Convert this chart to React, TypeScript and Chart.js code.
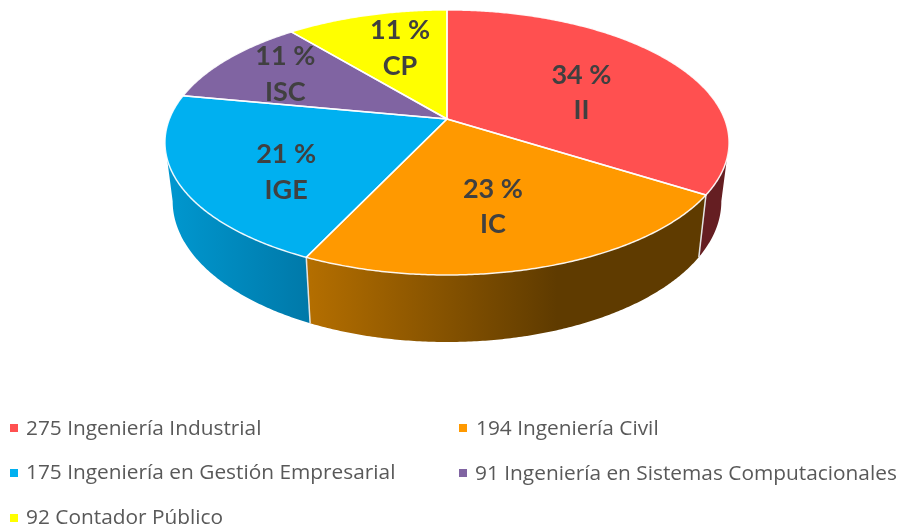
import React, { useEffect, useRef } from "react";
import { Chart, registerables } from "chart.js";

Chart.register(...registerables);

// Data
const shortNames = ["II", "IC", "IGE", "ISC", "CP"];
const percentages = [34, 23, 21, 11, 11];
const legendLabels = [
  "275 Ingeniería Industrial",
  "194 Ingeniería Civil",
  "175 Ingeniería en Gestión Empresarial",
  "91 Ingeniería en Sistemas Computacionales",
  "92 Contador Público",
];

// Styles
const topColors = ["#ff5050", "#ff9900", "#00b0f0", "#8064a2", "#ffff00"];
const labelAngleShift = [5, 2.4, -8, 1, 3];
const labelRadius = [0.55, 0.62, 0.66, 0.73, 0.65];
const legendCells = [
  [10, 424, 26, 429],
  [459, 424, 476, 429],
  [10, 469, 26, 473],
  [459, 469, 475, 474],
  [10, 514, 26, 518],
];

// Projection of a flat disc, seen from above, in perspective
const CX = 447;
const K = 0.177;
const TOP = { y0: 119, rx: 277.6, ry: 128.4 };
const BOTTOM = { y0: 176.4, rx: 270, ry: 136.3 };
type Plane = typeof TOP;

const project = (p: Plane, theta: number, r = 1) => {
  const u = r * Math.sin(theta);
  const v = -r * Math.cos(theta);
  const w = 1 - K * v;
  return { x: CX + (p.rx * u) / w, y: p.y0 + (p.ry * v) / w };
};

const sweep = (a: number, b: number) => {
  const n = Math.max(2, Math.ceil(Math.abs(b - a) / (Math.PI / 360)));
  const out: number[] = [];
  for (let i = 0; i <= n; i++) out.push(a + ((b - a) * i) / n);
  return out;
};

const thetas = (arc: any) => [arc.startAngle + Math.PI / 2, arc.endAngle + Math.PI / 2];

const wallFill = (ctx: CanvasRenderingContext2D, i: number) => {
  if (i === 1) {
    const g = ctx.createLinearGradient(305, 0, 705, 0);
    g.addColorStop(0, "#b56f00");
    g.addColorStop(0.63, "#5f3b00");
    g.addColorStop(1, "#5f3b00");
    return g;
  }
  if (i === 2) {
    const g = ctx.createLinearGradient(165, 0, 308, 0);
    g.addColorStop(0, "#0098d0");
    g.addColorStop(1, "#0079a9");
    return g;
  }
  return ["#651e22", "", "", "#4c3c61", "#999900"][i];
};

const pie3d = {
  id: "pie3d",
  beforeDatasetDraw(chart: Chart) {
    const ctx = chart.ctx;
    const arcs = chart.getDatasetMeta(0).data as any[];
    ctx.save();
    ctx.lineJoin = "round";

    // side wall: only the part of the rim that faces the viewer
    const rimFrom = Math.acos(-K);
    const rimTo = 2 * Math.PI - rimFrom;
    arcs.forEach((arc, i) => {
      const [s, e] = thetas(arc);
      const a = Math.max(s, rimFrom);
      const b = Math.min(e, rimTo);
      if (b <= a) return;
      const ts = sweep(a, b);
      ctx.beginPath();
      ts.forEach((t, n) => {
        const q = project(TOP, t);
        n ? ctx.lineTo(q.x, q.y) : ctx.moveTo(q.x, q.y);
      });
      [...ts].reverse().forEach((t) => {
        const q = project(BOTTOM, t);
        ctx.lineTo(q.x, q.y);
      });
      ctx.closePath();
      ctx.fillStyle = wallFill(ctx, i) as any;
      ctx.fill();
    });

    // seams on the wall
    arcs.forEach((arc) => {
      const [a] = thetas(arc);
      if (-Math.cos(a) <= K) return;
      const p = project(TOP, a);
      const q = project(BOTTOM, a);
      ctx.beginPath();
      ctx.moveTo(p.x, p.y);
      ctx.lineTo(q.x, q.y);
      ctx.strokeStyle = "#e4e4e4";
      ctx.lineWidth = 1.5;
      ctx.stroke();
    });

    // top face
    arcs.forEach((arc, i) => {
      const [a, b] = thetas(arc);
      const c = project(TOP, 0, 0);
      ctx.beginPath();
      ctx.moveTo(c.x, c.y);
      sweep(a, b).forEach((t) => {
        const q = project(TOP, t);
        ctx.lineTo(q.x, q.y);
      });
      ctx.closePath();
      ctx.fillStyle = topColors[i];
      ctx.fill();
    });
    arcs.forEach((arc) => {
      const [a, b] = thetas(arc);
      const c = project(TOP, 0, 0);
      ctx.beginPath();
      ctx.moveTo(c.x, c.y);
      sweep(a, b).forEach((t) => {
        const q = project(TOP, t);
        ctx.lineTo(q.x, q.y);
      });
      ctx.closePath();
      ctx.strokeStyle = "rgba(255,255,255,0.9)";
      ctx.lineWidth = 1.5;
      ctx.stroke();
    });

    // labels
    ctx.fillStyle = "#404040";
    ctx.font = "bold 27px Lato";
    ctx.textAlign = "center";
    ctx.textBaseline = "middle";
    arcs.forEach((arc, i) => {
      const [a, b] = thetas(arc);
      const mid = (a + b) / 2 + (labelAngleShift[i] * Math.PI) / 180;
      const q = project(TOP, mid, labelRadius[i]);
      ctx.fillText(`${percentages[i]} %`, q.x, q.y - 16.5);
      ctx.fillText(shortNames[i], q.x, q.y + 19);
    });

    // legend
    ctx.font = "20.85px 'Open Sans'";
    ctx.textAlign = "left";
    legendLabels.forEach((label, i) => {
      const [mx, my, tx, ty] = legendCells[i];
      ctx.fillStyle = topColors[i];
      ctx.fillRect(mx, my, 8, 8);
      ctx.fillStyle = "#595959";
      ctx.fillText(label, tx, ty);
    });

    ctx.restore();
    return false;
  },
};

export default function App() {
  const ref = useRef<HTMLCanvasElement>(null);
  useEffect(() => {
    if (!ref.current) return;
    const chart = new Chart(ref.current, {
      type: "pie",
      data: {
        labels: legendLabels,
        datasets: [{ data: percentages, backgroundColor: topColors }],
      },
      options: {
        responsive: false,
        animation: false,
        plugins: { legend: { display: false }, tooltip: { enabled: false } },
      },
      plugins: [pie3d as any],
    });
    return () => chart.destroy();
  }, []);
  return (
    <div style={{ position: "fixed", left: 0, top: 0, width: 901, height: 529, background: "#fff" }}>
      <canvas ref={ref} width={901} height={529} style={{ display: "block" }} />
    </div>
  );
}
